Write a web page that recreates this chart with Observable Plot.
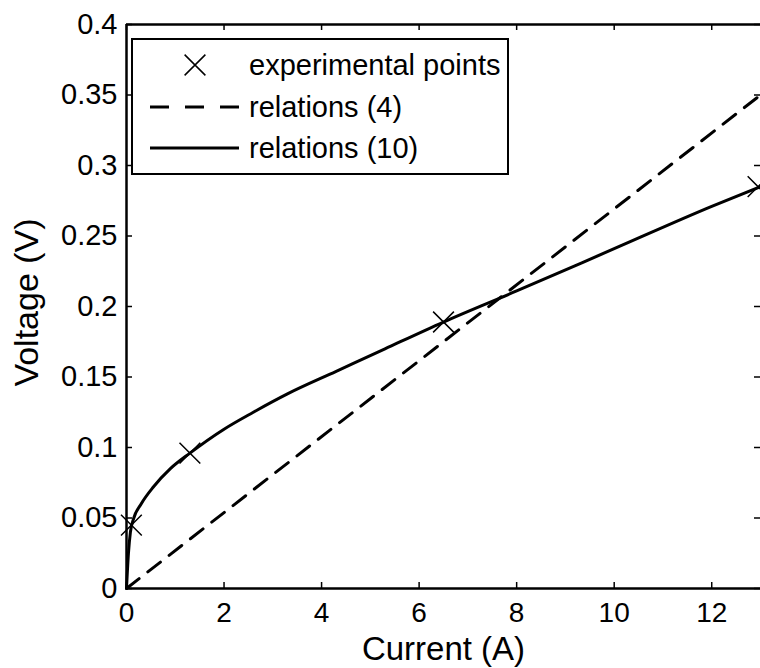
<!DOCTYPE html>
<html>
<head>
<meta charset="utf-8">
<script src="https://cdn.jsdelivr.net/npm/d3@7"></script>
<script src="https://cdn.jsdelivr.net/npm/@observablehq/plot@0.6"></script>
<style>
  html, body { margin: 0; padding: 0; background: #fff; }
  #chart { width: 760px; height: 668px; overflow: hidden; }
</style>
</head>
<body>
<div id="chart"></div>
<script>
// ---- data ----
const expCurrent = [0.1, 1.3, 6.5, 12.95];
const expVoltage = [0.045, 0.096, 0.189, 0.285];

const rel4Current = [0, 13];
const rel4Voltage = [0, 0.35];

const rel10Current = [0, 0.04, 0.08, 0.15, 0.3, 0.55, 0.9, 1.3, 2, 2.6, 3.3, 4.3, 5.3, 6.5, 8, 10, 12, 13];
const rel10Voltage = [0, 0.025, 0.04, 0.05, 0.06, 0.072, 0.085, 0.096, 0.113, 0.125, 0.138, 0.154, 0.17, 0.189, 0.211, 0.241, 0.271, 0.285];

const xTicks = [0, 2, 4, 6, 8, 10, 12];
const yTicks = [0, 0.05, 0.1, 0.15, 0.2, 0.25, 0.3, 0.35, 0.4];

const legendLabels = ["experimental points", "relations (4)", "relations (10)"];
const xLabel = "Current (A)";
const yLabel = "Voltage (V)";

// ---- build tables ----
const expPts = expCurrent.map((c, i) => ({c, v: expVoltage[i]}));
const rel4 = rel4Current.map((c, i) => ({c, v: rel4Voltage[i]}));
const rel10 = rel10Current.map((c, i) => ({c, v: rel10Voltage[i]}));

const W = 760, H = 668, mL = 126, mT = 24, mR = 0, mB = 80;
const plotW = W - mL - mR, plotH = H - mT - mB;
const FONT = "'Liberation Sans', Arial, Helvetica, sans-serif";
const R = 9.5;

const chart = Plot.plot({
  width: W,
  height: H,
  marginLeft: mL,
  marginTop: mT,
  marginRight: mR,
  marginBottom: mB,
  style: {fontFamily: FONT, background: "#fff", color: "#000", overflow: "visible"},
  x: {domain: [0, 13], ticks: xTicks},
  y: {domain: [0, 0.4], ticks: yTicks},
  marks: [
    Plot.axisX(xTicks, {tickSize: 0, tickPadding: 14, fontSize: 28, label: null, fill: "#000"}),
    Plot.axisY(yTicks, {tickSize: 0, tickPadding: 9, fontSize: 29, label: null, fill: "#000", tickFormat: d3.format("~g")}),
    // inward tick marks
    Plot.ruleX(xTicks, {x: d => d, insetTop: plotH - 6, stroke: "#000", strokeWidth: 1.5}),
    Plot.ruleX(xTicks, {x: d => d, insetBottom: plotH - 6, stroke: "#000", strokeWidth: 1.5}),
    Plot.ruleY(yTicks, {y: d => d, insetRight: plotW - 6, stroke: "#000", strokeWidth: 1.5}),
    Plot.ruleY(yTicks, {y: d => d, insetLeft: plotW - 6, stroke: "#000", strokeWidth: 1.5}),
    // axis lines (left, bottom, top)
    Plot.ruleX([0], {stroke: "#000", strokeWidth: 2.5}),
    Plot.ruleY([0], {stroke: "#000", strokeWidth: 2.5}),
    Plot.ruleY([0.4], {stroke: "#000", strokeWidth: 2.5}),
    // data
    Plot.line(rel4, {x: "c", y: "v", stroke: "#000", strokeWidth: 3, strokeDasharray: "16,11"}),
    Plot.line(rel10, {x: "c", y: "v", stroke: "#000", strokeWidth: 3, curve: "monotone-x"}),
    Plot.dot(expPts, {x: "c", y: "v", symbol: "times", r: R, stroke: "#000", strokeWidth: 1.5}),
    // axis titles
    Plot.text([xLabel], {frameAnchor: "bottom", dy: 71, text: d => d, fontSize: 33, fill: "#000", textAnchor: "middle"}),
    Plot.text([yLabel], {frameAnchor: "left", dx: -99, dy: -4, rotate: -90, text: d => d, fontSize: 34, fill: "#000", textAnchor: "middle"})
  ]
});

// ---- legend box drawn inside the same SVG ----
const svg = d3.select(chart);
const lg = svg.append("g").attr("font-family", FONT).attr("font-size", 29).attr("text-anchor", "start");
lg.append("rect").attr("x", 132).attr("y", 39).attr("width", 376).attr("height", 135)
  .attr("fill", "#fff").attr("stroke", "#000").attr("stroke-width", 2);
const rowY = [65, 107, 148];
lg.append("path")
  .attr("d", d3.symbol(d3.symbolTimes, Math.PI * R * R)())
  .attr("transform", `translate(195,${rowY[0]})`)
  .attr("fill", "none").attr("stroke", "#000").attr("stroke-width", 1.5);
lg.append("line").attr("x1", 150).attr("x2", 239).attr("y1", rowY[1]).attr("y2", rowY[1])
  .attr("stroke", "#000").attr("stroke-width", 3).attr("stroke-dasharray", "19,16");
lg.append("line").attr("x1", 150).attr("x2", 239).attr("y1", rowY[2]).attr("y2", rowY[2])
  .attr("stroke", "#000").attr("stroke-width", 3);
legendLabels.forEach((t, i) => {
  lg.append("text").attr("x", 249).attr("y", rowY[i] + 10).attr("fill", "#000")
    .attr("text-anchor", "start").text(t);
});

document.getElementById("chart").appendChild(chart);
</script>
</body>
</html>
